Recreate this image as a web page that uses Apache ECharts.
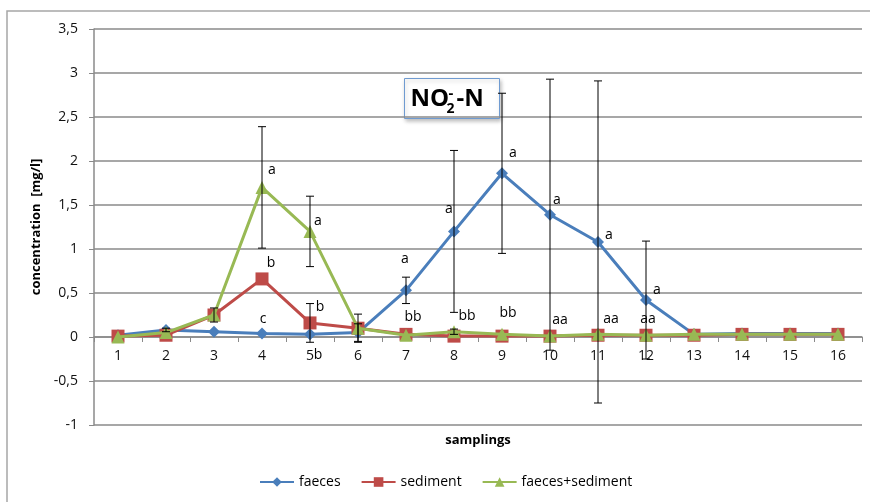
<!DOCTYPE html>
<html>
<head>
<meta charset="utf-8">
<script src="https://cdn.jsdelivr.net/npm/echarts@6/dist/echarts.min.js"></script>
<style>
  html, body { margin: 0; padding: 0; background: #fff; }
  #chart { width: 870px; height: 502px; }
</style>
</head>
<body>
<div id="chart"></div>
<script>
// Sampling numbers along the x axis
var samplings = ['1','2','3','4','5','6','7','8','9','10','11','12','13','14','15','16'];

// Mean NO2--N concentration [mg/l] per sampling
var faeces   = [0.02, 0.08, 0.06, 0.04, 0.03, 0.05, 0.53, 1.20, 1.86, 1.39, 1.08, 0.42, 0.03, 0.04, 0.04, 0.04];
var sediment = [0.01, 0.02, 0.25, 0.66, 0.16, 0.10, 0.03, 0.01, 0.01, 0.01, 0.02, 0.02, 0.02, 0.03, 0.03, 0.03];
var faecesSediment = [0.00, 0.05, 0.25, 1.70, 1.20, 0.10, 0.02, 0.06, 0.03, 0.01, 0.03, 0.02, 0.03, 0.03, 0.03, 0.03];

// Standard deviations (error bar half-lengths)
var faecesErr   = [0, 0.02, 0, 0, 0, 0.10, 0.15, 0.92, 0.91, 1.54, 1.83, 0.67, 0, 0, 0, 0];
var sedimentErr = [0, 0, 0.08, 0, 0.22, 0, 0, 0, 0, 0, 0, 0, 0, 0, 0, 0];
var faecesSedimentErr = [0, 0, 0, 0.69, 0.40, 0.16, 0, 0.03, 0, 0, 0, 0, 0, 0, 0, 0];

// Significance letters
var faecesLetters   = ['', '', '', 'c', 'b', '', 'a', 'a', 'a', 'a', 'a', 'a', '', '', '', ''];
var sedimentLetters = ['', '', '', 'b', 'b', '', 'bb', 'bb', 'bb', 'aa', 'aa', 'aa', '', '', '', ''];
var faecesSedimentLetters = ['', '', '', 'a', 'a', '', '', '', '', '', '', '', '', '', '', ''];

// Y axis range and step
var yMin = -1, yMax = 3.5, yStep = 0.5;

// Letter placement relative to each point (pixels)
var faecesLabelOffset = {3: [1, -14], 4: [8, 21], 6: [-1, -31], 7: [-5, -22], 8: [11, -20], 9: [7, -15], 10: [11, -7], 11: [11, -10]};
var sedimentLabelOffset = {3: [9, -16], 4: [10, -16], 6: [7, -17], 7: [13, -20], 8: [6, -23], 9: [10, -16], 10: [13, -16], 11: [2, -16]};
var mixLabelOffset = {3: [10, -17], 4: [8, -10]};

var FONT = '"Open Sans", sans-serif';
var COLORS = ['#4A7EBB', '#BE4B48', '#98B954'];

// plot area
var GRID = { left: 94, right: 8, top: 29, bottom: 77 };
var CHART_H = 502;
var plotH = CHART_H - GRID.top - GRID.bottom;
// the category axis sits on the zero line: lift it from the bottom edge
var xAxisLift = plotH * (0 - yMin) / (yMax - yMin);

function pointData(values, letters, offsets) {
  return values.map(function (v, i) {
    var item = { value: v };
    if (letters[i]) {
      item.label = {
        show: true,
        position: 'inside',
        offset: offsets[i] || [0, -15],
        formatter: letters[i],
        color: '#000',
        fontSize: 14,
        fontFamily: FONT
      };
    }
    return item;
  });
}

function errData(values, errs) {
  var out = [];
  values.forEach(function (v, i) {
    if (errs[i] > 0) out.push([i, v - errs[i], v + errs[i]]);
  });
  return out;
}

function errorSeries(values, errs) {
  return {
    type: 'custom',
    silent: true,
    z: 5,
    data: errData(values, errs),
    renderItem: function (params, api) {
      var lo = api.coord([api.value(0), api.value(1)]);
      var hi = api.coord([api.value(0), api.value(2)]);
      var cap = 4;
      var style = { stroke: '#000', lineWidth: 1 };
      return {
        type: 'group',
        children: [
          { type: 'line', shape: { x1: hi[0], y1: hi[1], x2: lo[0], y2: lo[1] }, style: style },
          { type: 'line', shape: { x1: hi[0] - cap, y1: hi[1], x2: hi[0] + cap, y2: hi[1] }, style: style },
          { type: 'line', shape: { x1: lo[0] - cap, y1: lo[1], x2: lo[0] + cap, y2: lo[1] }, style: style }
        ]
      };
    },
    encode: { x: 0, y: [1, 2] }
  };
}

var chart = echarts.init(document.getElementById('chart'));

var option = {
  animation: false,
  color: COLORS,
  textStyle: { fontFamily: FONT },
  grid: { left: GRID.left, right: GRID.right, top: GRID.top, bottom: GRID.bottom, containLabel: false, outerBoundsMode: 'none' },
  legend: {
    left: 259,
    top: 475,
    padding: 0,
    itemWidth: 34,
    itemHeight: 12,
    itemGap: 20,
    textStyle: { fontSize: 14, color: '#000', fontFamily: FONT },
    data: ['faeces', 'sediment', 'faeces+sediment']
  },
  xAxis: {
    type: 'category',
    data: samplings,
    boundaryGap: true,
    offset: -xAxisLift,
    name: 'samplings',
    nameLocation: 'middle',
    nameGap: 97,
    nameTextStyle: { fontSize: 13, fontWeight: 'bold', color: '#000', fontFamily: FONT },
    axisLine: { onZero: false, lineStyle: { color: '#8a8a8a', width: 1.5 } },
    axisTick: { show: true, length: 5, lineStyle: { color: '#8a8a8a' } },
    axisLabel: { margin: 12, fontSize: 14, color: '#111', fontFamily: FONT },
    splitLine: { show: false }
  },
  yAxis: {
    type: 'value',
    min: yMin,
    max: yMax,
    interval: yStep,
    name: 'concentration  [mg/l]',
    nameLocation: 'middle',
    nameRotate: 90,
    nameGap: 50,
    nameTextStyle: { fontSize: 13, fontWeight: 'bold', color: '#000', fontFamily: FONT },
    axisLine: { show: true, lineStyle: { color: '#8a8a8a', width: 1.5 } },
    axisTick: { show: true, length: 5, lineStyle: { color: '#8a8a8a' } },
    axisLabel: {
      margin: 16,
      fontSize: 14,
      color: '#111',
      fontFamily: FONT,
      formatter: function (v) { return String(v).replace('.', ','); }
    },
    splitLine: { show: true, lineStyle: { color: '#8a8a8a', width: 1.5 } }
  },
  series: [
    {
      name: 'faeces',
      type: 'line',
      data: pointData(faeces, faecesLetters, faecesLabelOffset),
      symbol: 'diamond',
      symbolSize: 12,
      lineStyle: { width: 3, color: COLORS[0] },
      itemStyle: { color: COLORS[0] },
      z: 2
    },
    {
      name: 'sediment',
      type: 'line',
      data: pointData(sediment, sedimentLetters, sedimentLabelOffset),
      symbol: 'rect',
      symbolSize: 13,
      lineStyle: { width: 3, color: COLORS[1] },
      itemStyle: { color: COLORS[1] },
      z: 3
    },
    {
      name: 'faeces+sediment',
      type: 'line',
      data: pointData(faecesSediment, faecesSedimentLetters, mixLabelOffset),
      symbol: 'triangle',
      symbolSize: 13,
      lineStyle: { width: 3, color: COLORS[2] },
      itemStyle: { color: COLORS[2] },
      z: 4
    },
    errorSeries(faeces, faecesErr),
    errorSeries(sediment, sedimentErr),
    errorSeries(faecesSediment, faecesSedimentErr)
  ],
  graphic: [
    // chart area frame (top and left edges)
    { type: 'polyline', silent: true, shape: { points: [[7, 502], [7, 11], [870, 11]] },
      style: { stroke: '#a6a6a6', lineWidth: 1.5, fill: null } },
    // title box: NO2- -N
    {
      type: 'group',
      left: 404,
      top: 78,
      children: [
        { type: 'rect', shape: { x: 0, y: 0, width: 95, height: 40 },
          style: { fill: '#fff', stroke: '#6F9BD1', lineWidth: 1, shadowBlur: 4, shadowColor: 'rgba(0,0,0,0.25)', shadowOffsetX: 1, shadowOffsetY: 2 } },
        { type: 'text', x: 6, y: 33, style: { text: 'NO', fontSize: 24, fontWeight: 'bold', fontFamily: FONT, fill: '#000', verticalAlign: 'bottom' } },
        { type: 'text', x: 42, y: 38, style: { text: '2', fontSize: 14, fontWeight: 'bold', fontFamily: FONT, fill: '#000', verticalAlign: 'bottom' } },
        { type: 'text', x: 44, y: 23, style: { text: '-', fontSize: 15, fontWeight: 'bold', fontFamily: FONT, fill: '#000', verticalAlign: 'bottom' } },
        { type: 'text', x: 52, y: 33, style: { text: '-N', fontSize: 24, fontWeight: 'bold', fontFamily: FONT, fill: '#000', verticalAlign: 'bottom' } }
      ]
    }
  ]
};

chart.setOption(option);
</script>
</body>
</html>
